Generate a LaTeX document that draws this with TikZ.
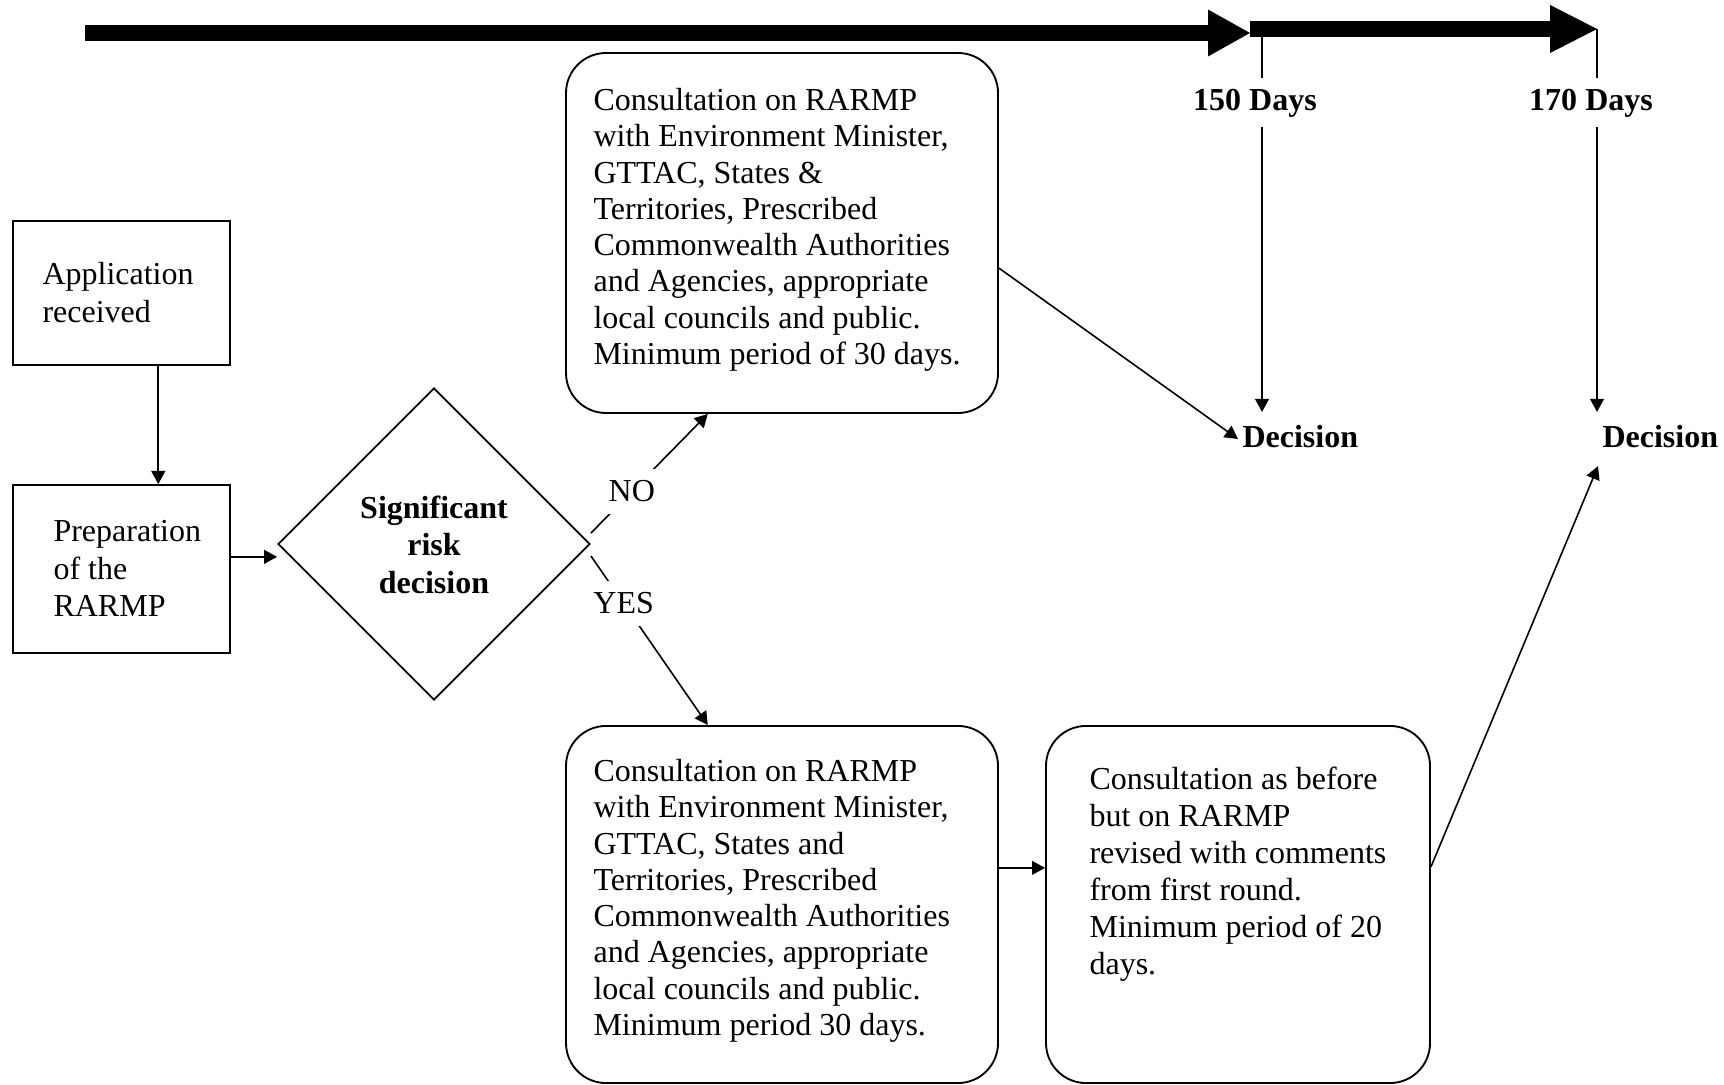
\documentclass[tikz,border=0pt]{standalone}
\usepackage{fontspec}
\setmainfont{Liberation Serif}
\usetikzlibrary{arrows.meta,shapes.geometric,calc}
\begin{document}
\begin{tikzpicture}[x=0.375pt,y=-0.375pt,
  font=\fontsize{12pt}{13.6pt}\selectfont,
  boxsq/.style={draw,line width=0.7pt,rectangle,inner sep=0pt},
  boxrd/.style={draw,line width=0.7pt,rectangle,rounded corners=15pt,inner sep=0pt},
  txt/.style={inner sep=0pt,anchor=base west},
  txtb/.style={inner sep=0pt,anchor=base west,font=\fontsize{12pt}{13.9pt}\selectfont},
  thinline/.style={line width=0.6pt},
  arr/.style={line width=0.6pt,-{Triangle[length=4.9pt,width=5.2pt]}},
  lbl/.style={fill=white,inner sep=4.5pt},
  days/.style={font=\fontsize{12pt}{13.6pt}\selectfont\bfseries,text height=8.25pt,text depth=1.9pt,inner xsep=0pt,inner ysep=4pt,anchor=base},
  dec/.style={font=\fontsize{12pt}{13.6pt}\selectfont\bfseries,text height=8.25pt,text depth=1.9pt,inner xsep=1.5pt,inner ysep=4.9pt,anchor=base west},
  bigarr/.style={line width=6pt}
]
\useasboundingbox (0,0) rectangle (1724,1085);

% timeline arrows
\coordinate (a1s) at (85,33);
\coordinate (a1e) at (1250,33);
\coordinate (a2s) at (1250,29);
\coordinate (a2e) at (1597,29);
\draw[bigarr,-{Triangle[length=15.75pt,width=17.6pt,line width=0pt]}] (a1s) -- (a1e);
\draw[bigarr,-{Triangle[length=17.6pt,width=18pt,line width=0pt]}] (a2s) -- (a2e);

\coordinate (t1) at (1262,31);
\coordinate (t2) at (1597,29);
\node[days] (d150) at (1255,111) {150 Days};
\node[days] (d170) at (1591,111) {170 Days};
\node[dec] (dec1) at (1238,447.5) {Decision};
\node[dec] (dec2) at (1598,447.5) {Decision};
\draw[thinline] (t1) -- (t1 |- d150.north);
\draw[arr] (t1 |- d150.south) -- (t1 |- dec1.north);
\draw[thinline] (t2) -- (t2 |- d170.north);
\draw[arr] (t2 |- d170.south) -- (t2 |- dec2.north);

% boxes
\node[boxsq,minimum width=81.4pt,minimum height=54pt] (app) at (121.5,293) {};
\node[boxsq,minimum width=81.4pt,minimum height=63pt] (prep) at (121.5,569) {};
\node[draw,line width=0.7pt,diamond,minimum width=117pt,minimum height=117pt,inner sep=0pt,
      font=\fontsize{12pt}{14pt}\selectfont\bfseries] (dia) at (434,544)
      {\begin{tabular}{@{}c@{}}\rule{0pt}{13pt}Significant\\risk\\decision\end{tabular}};
\node[boxrd,minimum width=162pt,minimum height=135pt] (cons1) at (782,233) {};
\node[boxrd,minimum width=162pt,minimum height=133.9pt] (cons2) at (782,904.5) {};
\node[boxrd,minimum width=144pt,minimum height=133.9pt] (cons3) at (1238,904.5) {};

% texts
\node[txtb] (appt) at (42,285) {\begin{tabular}[t]{@{}l@{}}Application\\received\end{tabular}};
\node[txtb] (prept) at (53,542) {\begin{tabular}[t]{@{}l@{}}Preparation\\of the\\RARMP\end{tabular}};
\node[txt] (cons1t) at (593,110.5) {\begin{tabular}[t]{@{}l@{}}Consultation on RARMP\\with Environment Minister,\\GTTAC, States \&\\Territories, Prescribed\\Commonwealth Authorities\\and Agencies, appropriate\\local councils and public.\\Minimum period of 30 days.\end{tabular}};
\node[txt] (cons2t) at (593,781.5) {\begin{tabular}[t]{@{}l@{}}Consultation on RARMP\\with Environment Minister,\\GTTAC, States and\\Territories, Prescribed\\Commonwealth Authorities\\and Agencies, appropriate\\local councils and public.\\Minimum period 30 days.\end{tabular}};
\node[txtb] (cons3t) at (1089,789) {\begin{tabular}[t]{@{}l@{}}Consultation as before\\but on RARMP\\revised with comments\\from first round.\\Minimum period of 20\\days.\end{tabular}};

% connectors
\coordinate (appout) at ($(app.south west)!0.668!(app.south east)$);
\draw[arr] (appout) -- (appout |- prep.north);
\coordinate (prepout) at ($(prep.north east)!0.4286!(prep.south east)$);
\draw[arr] (prepout) -- (prepout -| dia.west);
\draw[arr] ([yshift=4.1pt]dia.east) -- node[lbl,pos=0.35]{NO} ($(cons1.south west)!0.329!(cons1.south east)$);
\draw[arr] ([yshift=-4.5pt]dia.east) -- node[lbl,pos=0.28]{YES} ($(cons2.north west)!0.329!(cons2.north east)$);
\draw[arr] ($(cons1.north east)!0.597!(cons1.south east)$) -- (dec1.west);
\coordinate (c2out) at ($(cons2.north east)!0.398!(cons2.south east)$);
\draw[arr] (c2out) -- (c2out -| cons3.west);
\draw[arr] ($(cons3.north east)!0.395!(cons3.south east)$) -- (dec2.south west);
\end{tikzpicture}
\end{document}
